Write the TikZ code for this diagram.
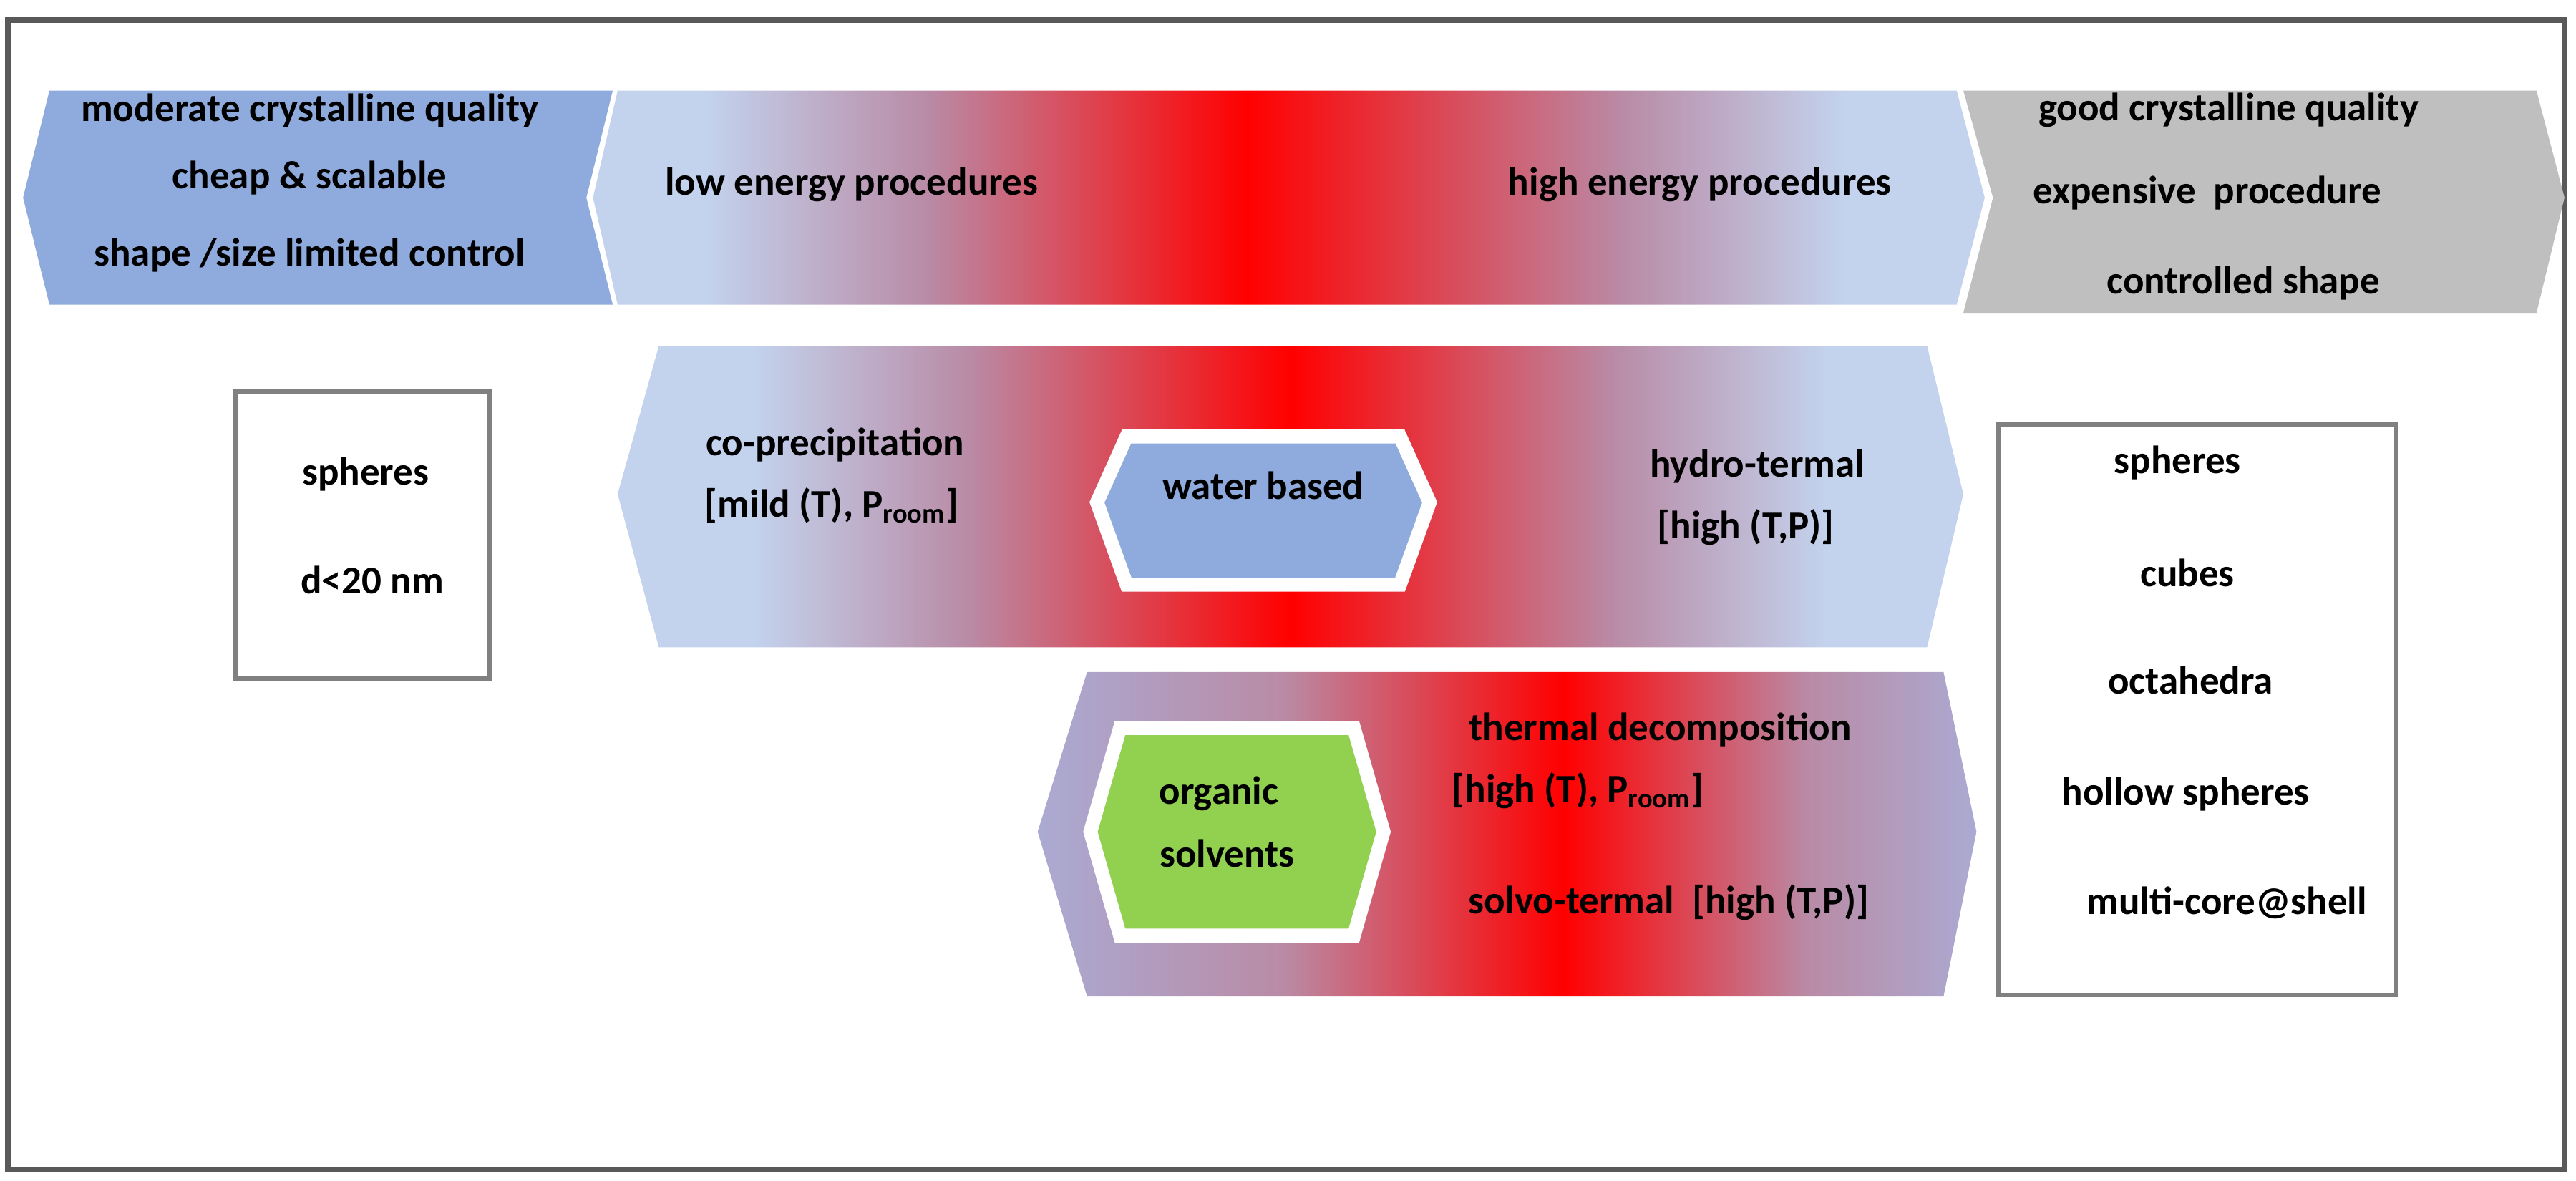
\documentclass[tikz,border=0pt]{standalone}
\usepackage{fontspec}
\setmainfont{Carlito}
\definecolor{bandblue}{HTML}{C3D3EE}
\definecolor{bandmid}{HTML}{B98BA6}
\definecolor{lowblue}{HTML}{ABAAD2}
\definecolor{boxblue}{HTML}{8FAADC}
\definecolor{boxgreen}{HTML}{92D050}
\definecolor{boxgray}{HTML}{BFBFBF}
\definecolor{framegray}{HTML}{595959}
\pgfdeclarehorizontalshading{topband}{100bp}{color(0bp)=(bandblue); color(29bp)=(bandblue); color(37bp)=(bandmid); color(48.5bp)=(red); color(62bp)=(bandmid); color(70bp)=(bandblue); color(100bp)=(bandblue)}
\pgfdeclarehorizontalshading{midband}{100bp}{color(0bp)=(bandblue); color(30bp)=(bandblue); color(38bp)=(bandmid); color(50bp)=(red); color(62bp)=(bandmid); color(70bp)=(bandblue); color(100bp)=(bandblue)}
\pgfdeclarehorizontalshading{lowband}{100bp}{color(0bp)=(lowblue); color(25bp)=(lowblue); color(38bp)=(bandmid); color(53bp)=(red); color(66bp)=(bandmid); color(75bp)=(lowblue); color(100bp)=(lowblue)}
\tikzset{
  lbl/.style={font=\fontsize{17}{20}\selectfont\bfseries, inner sep=0pt},
  graybox/.style={draw=gray, line width=2pt},
  hexbox/.style={draw=white, line width=6pt, line join=miter}
}
\begin{document}
\begin{tikzpicture}[x=0.025cm, y=-0.025cm]
      \useasboundingbox (0,0) rectangle (1564,717);
      %Frame
      \draw[framegray, line width=2.5pt] (5,12) rectangle (1557,710);
      %Left chevron
      \fill[boxblue] (30,55) -- (372,55) -- (356,120) -- (372,185) -- (30,185) -- (14,120) -- cycle;
      \node[lbl] (modq) at (188,67) {moderate crystalline quality};
      \node[lbl] (cheap) at (188,108) {cheap \& scalable};
      \node[lbl] (limit) at (188,155) {shape /size limited control};
      %Energy band
      \shade[shading=topband] (375,55) -- (1188,55) -- (1205,120) -- (1188,185) -- (375,185) -- (360,120) -- cycle;
      \node[lbl] (low) at (517,112) {low energy procedures};
      \node[lbl] (high) at (1032,112) {high energy procedures};
      %Right chevron
      \fill[boxgray] (1192,55) -- (1540,55) -- (1557,120) -- (1540,190) -- (1192,190) -- (1210,120) -- cycle;
      \node[lbl] (goodq) at (1353,67) {good crystalline quality};
      \node[lbl] (expens) at (1340,117) {expensive\ \ procedure};
      \node[lbl] (ctrl) at (1362,172) {controlled shape};
      %Water band
      \shade[shading=midband] (400,210) -- (1170,210) -- (1192,300) -- (1170,393) -- (400,393) -- (375,300) -- cycle;
      \node[lbl] (coprec) at (507,270) {co-precipitation};
      \node[lbl] (mild) at (505,307) {[mild (T), P\textsubscript{room}]};
      \node[lbl] (hydro) at (1067,283) {hydro-termal};
      \node[lbl] (hydroc) at (1060,320) {[high (T,P)]};
      \draw[hexbox, fill=boxblue] (684,265) -- (850,265) -- (868,305) -- (850,355) -- (684,355) -- (666,305) -- cycle;
      \node[lbl] (water) at (767,295) {water based};
      %Organic band
      \shade[shading=lowband] (660,408) -- (1180,408) -- (1200,505) -- (1180,605) -- (660,605) -- (630,505) -- cycle;
      \node[lbl] (thermal) at (1008,443) {thermal decomposition};
      \node[lbl] (thermc) at (958,480) {[high (T), P\textsubscript{room}]};
      \node[lbl] (solvo) at (1013,548) {solvo-termal\ \ [high (T,P)]};
      \draw[hexbox, fill=boxgreen] (680,442) -- (822,442) -- (840,505) -- (822,568) -- (680,568) -- (662,505) -- cycle;
      \node[lbl] (organic) at (740,482) {organic};
      \node[lbl] (solvents) at (745,518) {solvents};
      %Left box
      \draw[graybox] (143,238) rectangle (297,412);
      \node[lbl] (sph) at (222,288) {spheres};
      \node[lbl] (dsize) at (226,352) {d<20 nm};
      %Right box
      \draw[graybox] (1213,258) rectangle (1455,604);
      \node[lbl] (sphr) at (1322,281) {spheres};
      \node[lbl] (cubes) at (1328,348) {cubes};
      \node[lbl] (octa) at (1330,413) {octahedra};
      \node[lbl] (hollow) at (1327,482) {hollow spheres};
      \node[lbl] (multi) at (1352,548) {multi-core@shell};
\end{tikzpicture}
\end{document}
